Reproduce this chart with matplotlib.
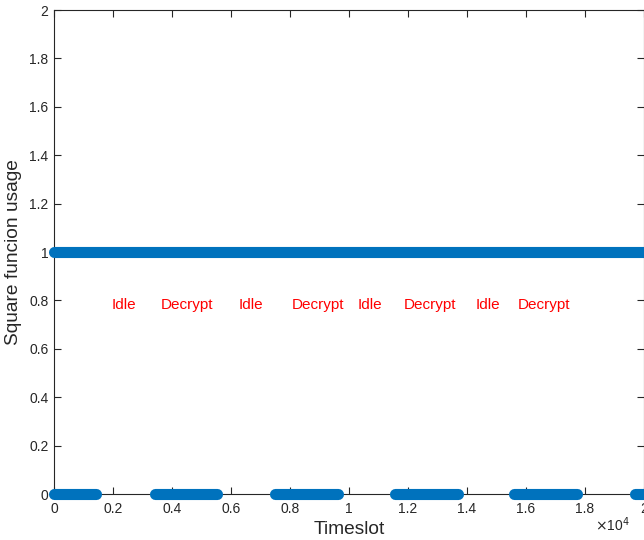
import matplotlib
matplotlib.use("Agg")
import matplotlib.pyplot as plt

# Data: segments (start, end) in timeslots where the square function is used (y=1) / not (y=0)
high_starts = [0]
high_ends = [20000]
low_starts = [0, 3420, 7480, 11550, 15610, 19710]
low_ends = [1420, 5520, 9620, 13680, 17740, 20000]

label_texts = ["Idle", "Decrypt", "Idle", "Decrypt", "Idle", "Decrypt", "Idle", "Decrypt"]
label_x = [2380, 4500, 6680, 8940, 10720, 12730, 14700, 16620]
label_y = [0.78] * 8

xticks = [0, 2000, 4000, 6000, 8000, 10000, 12000, 14000, 16000, 18000, 20000]
xticklabels = ["0", "0.2", "0.4", "0.6", "0.8", "1", "1.2", "1.4", "1.6", "1.8", "2"]
yticks = [0, 0.2, 0.4, 0.6, 0.8, 1, 1.2, 1.4, 1.6, 1.8, 2]
yticklabels = ["0", "0.2", "0.4", "0.6", "0.8", "1", "1.2", "1.4", "1.6", "1.8", "2"]

plt.rcParams['font.family'] = ['Liberation Sans', 'DejaVu Sans']
fig = plt.figure(figsize=(6.44, 5.4), dpi=100)
ax = fig.add_axes([54/644, 1-494/540, 590/644, 484/540])

blue = '#0072BD'
lw = 8.0
for s, e in zip(high_starts, high_ends):
    ax.plot([s, e], [1, 1], color=blue, lw=lw, solid_capstyle='round', clip_on=False, zorder=3)
for s, e in zip(low_starts, low_ends):
    ax.plot([s, e], [0, 0], color=blue, lw=lw, solid_capstyle='round', clip_on=False, zorder=3)

for t, x, y in zip(label_texts, label_x, label_y):
    ax.text(x, y, t, color='red', fontsize=11, ha='center', va='center')

ax.set_xlim(0, 20000)
ax.set_ylim(0, 2)
ax.set_xticks(xticks)
ax.set_xticklabels(xticklabels)
ax.set_yticks(yticks)
ax.set_yticklabels(yticklabels)
c = '#262626'
ax.tick_params(direction='in', length=5, width=0.8, colors=c, labelsize=10,
               top=True, right=True)
ax.tick_params(axis='x', pad=6)
ax.tick_params(axis='y', pad=4)
for sp in ax.spines.values():
    sp.set_color(c)
    sp.set_linewidth(0.8)

ax.set_xlabel('Timeslot', fontsize=13.8, color=c, labelpad=3)
ax.set_ylabel('Square funcion usage', fontsize=13.8, color=c, labelpad=5)
fig.text(612/644, 1-525/540, r'$\times$10$^4$', fontsize=10, color=c, ha='center', va='center')

fig.savefig('out.png', dpi=100)
